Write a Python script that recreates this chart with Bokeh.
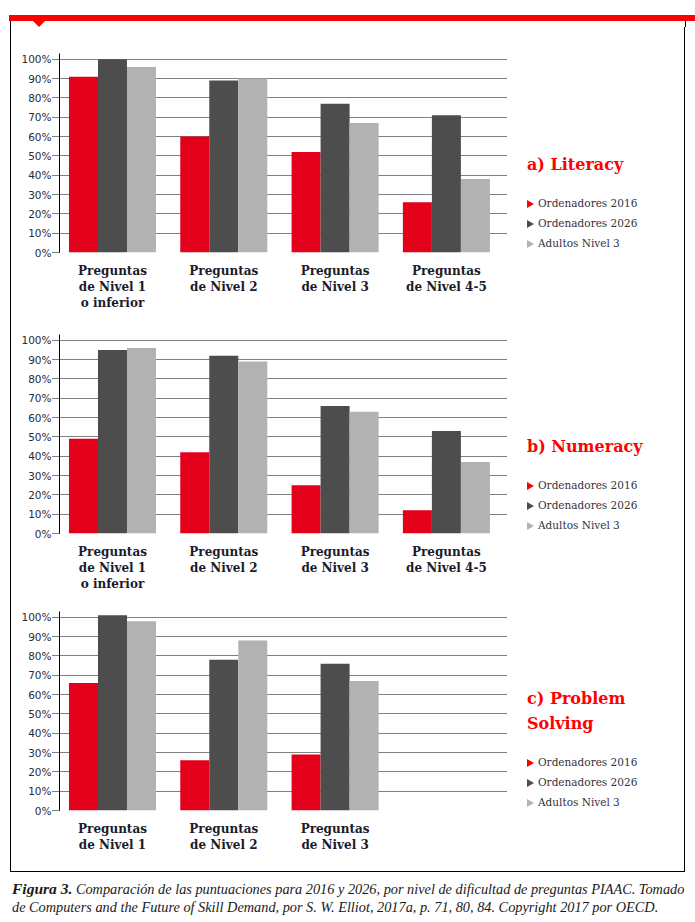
from bokeh.plotting import figure
from bokeh.layouts import column, row
from bokeh.models import Div, Range1d, FixedTicker, ColumnDataSource, PrintfTickFormatter
from bokeh.transform import dodge
from bokeh.embed import file_html
from bokeh.resources import INLINE

series = ["Ordenadores 2016", "Ordenadores 2026", "Adultos Nivel 3"]
colors = ["#e2001a", "#4d4d4d", "#b2b2b2"]
legend_colors = ["#ff0000", "#4d4d4d", "#b2b2b2"]

lit_title = "a) Literacy"
lit_cats = ["Preguntas\nde Nivel 1\no inferior", "Preguntas\nde Nivel 2",
            "Preguntas\nde Nivel 3", "Preguntas\nde Nivel 4-5"]
lit_2016 = [91, 60, 52, 26]
lit_2026 = [100, 89, 77, 71]
lit_adult = [96, 90, 67, 38]

num_title = "b) Numeracy"
num_cats = ["Preguntas\nde Nivel 1\no inferior", "Preguntas\nde Nivel 2",
            "Preguntas\nde Nivel 3", "Preguntas\nde Nivel 4-5"]
num_2016 = [49, 42, 25, 12]
num_2026 = [95, 92, 66, 53]
num_adult = [96, 89, 63, 37]

ps_title = "c) Problem<br>Solving"
ps_cats = ["Preguntas\nde Nivel 1", "Preguntas\nde Nivel 2", "Preguntas\nde Nivel 3"]
ps_2016 = [66, 26, 29]
ps_2026 = [101, 78, 76]
ps_adult = [98, 88, 67]

y_ticks = [0, 10, 20, 30, 40, 50, 60, 70, 80, 90, 100]

caption_bold = "Figura 3."
caption_l1 = ("Comparación de las puntuaciones para 2016 y 2026, por nivel de dificultad "
              "de preguntas PIAAC. Tomado")
caption_l2 = ("de Computers and the Future of Skill Demand, por S. W. Elliot, 2017a, p. 71, 80, 84. "
              "Copyright 2017 por OECD.")

BW = 0.2606


def panel(cats, v16, v26, vad, bt, bb):
    n = len(cats)
    src = ColumnDataSource(dict(x=list(range(n)), a=v16, b=v26, c=vad))
    p = figure(width=505, height=bt + 199 + bb, x_range=Range1d(-0.476, 3.549), y_range=Range1d(0, 103),
               output_backend="svg", toolbar_location=None,
               min_border_left=48, min_border_right=9, min_border_top=bt, min_border_bottom=bb)
    for key, off, col in zip(["a", "b", "c"], [-BW, 0, BW], colors):
        p.vbar(x=dodge("x", off, range=p.x_range), top=key, bottom=0, width=BW,
               source=src, fill_color=col, line_color=None)
    p.outline_line_color = None
    p.xgrid.visible = False
    p.ygrid.ticker = FixedTicker(ticks=y_ticks)
    p.ygrid.grid_line_color = "black"
    p.ygrid.grid_line_dash = "1 1"
    p.ygrid.grid_line_width = 1

    xa = p.xaxis[0]
    xa.ticker = FixedTicker(ticks=list(range(n)))
    xa.major_label_overrides = {i: c for i, c in enumerate(cats)}
    xa.axis_line_color = None
    xa.major_tick_line_color = None
    xa.minor_tick_line_color = None
    xa.major_label_standoff = 5
    xa.major_label_text_font = "DejaVu Serif"
    xa.major_label_text_font_style = "bold"
    xa.major_label_text_font_size = "12px"
    xa.major_label_text_color = "#1b1b2b"
    xa.major_label_text_line_height = 1.15

    ya = p.yaxis[0]
    ya.ticker = FixedTicker(ticks=y_ticks)
    ya.formatter = PrintfTickFormatter(format="%d%%")
    ya.axis_line_color = "black"
    ya.major_tick_in = 0
    ya.major_tick_out = 7
    ya.major_tick_line_dash = "1 1"
    ya.major_tick_line_color = "black"
    ya.minor_tick_line_color = None
    ya.major_label_standoff = 1
    ya.major_label_text_font = "DejaVu Sans"
    ya.major_label_text_font_size = "10.5px"
    ya.major_label_text_color = "#2b2b3b"
    return p


def side(title, h, title_top, leg_top):
    def tri(c):
        return ('<span style="display:inline-block;width:0;height:0;border-top:4px solid transparent;'
                'border-bottom:4px solid transparent;border-left:7px solid %s;margin-right:4px;'
                'vertical-align:-1px"></span>' % c)
    items = "".join(
        '<div style="position:absolute;left:11px;top:%dpx;height:14px;line-height:14px;'
        'font-family:\'DejaVu Serif\';font-size:10.5px;color:#333340;white-space:nowrap">%s%s</div>'
        % (leg_top + i * 20, tri(c), s)
        for i, (s, c) in enumerate(zip(series, legend_colors)))
    ttl = ('<div style="position:absolute;left:11px;top:%dpx;line-height:25px;font-family:\'DejaVu Serif\';'
           'font-weight:bold;font-size:16px;color:#ff0000;white-space:nowrap">%s</div>' % (title_top, title))
    html = '<div style="position:relative;width:168px;height:%dpx">%s%s</div>' % (h, ttl, items)
    return Div(text=html, width=168, height=h, margin=(0, 0, 0, 0))


pa = panel(lit_cats, lit_2016, lit_2026, lit_adult, 26, 70)
pb = panel(num_cats, num_2016, num_2026, num_adult, 12, 70)
pc = panel(ps_cats, ps_2016, ps_2026, ps_adult, 8, 61)

sa = side(lit_title, pa.height, 125, 169)
sb = side(num_title, pb.height, 112, 156)
sc = side(ps_title, pc.height, 83, 152)

box = column(row(pa, sa), row(pb, sb), row(pc, sc), margin=(0, 0, 0, 2),
             styles={"border-left": "1px solid #000", "border-right": "1px solid #000",
                     "border-bottom": "1px solid #000"})

top_html = ('<div style="position:relative;width:687px;height:19px">'
            '<div style="position:absolute;left:1px;top:7px;width:686px;height:6px;background:#ff0000"></div>'
            '<div style="position:absolute;left:25px;top:13px;width:0;height:0;border-left:6px solid transparent;'
            'border-right:6px solid transparent;border-top:6px solid #ff0000"></div>'
            '<div style="position:absolute;left:2px;top:13px;width:1px;height:6px;background:#000"></div>'
            '<div style="position:absolute;left:677px;top:13px;width:1px;height:6px;background:#000"></div>'
            '</div>')
top = Div(text=top_html, width=687, height=19, margin=(0, 0, 0, 0))

cap_html = ('<div style="padding-top:8px;padding-left:4px;font-family:\'Liberation Serif\';font-style:italic;'
            'font-size:14.3px;line-height:18px;color:#1a1a1a;white-space:nowrap">'
            '<span style="font-weight:bold;font-size:15.5px">%s</span> %s<br>%s</div>'
            % (caption_bold, caption_l1, caption_l2))
cap = Div(text=cap_html, width=679, height=47, margin=(0, 0, 0, 0))

layout = column(top, box, cap, margin=(8, 0, 0, 8))

open("out.html", "w").write(file_html(layout, INLINE))
